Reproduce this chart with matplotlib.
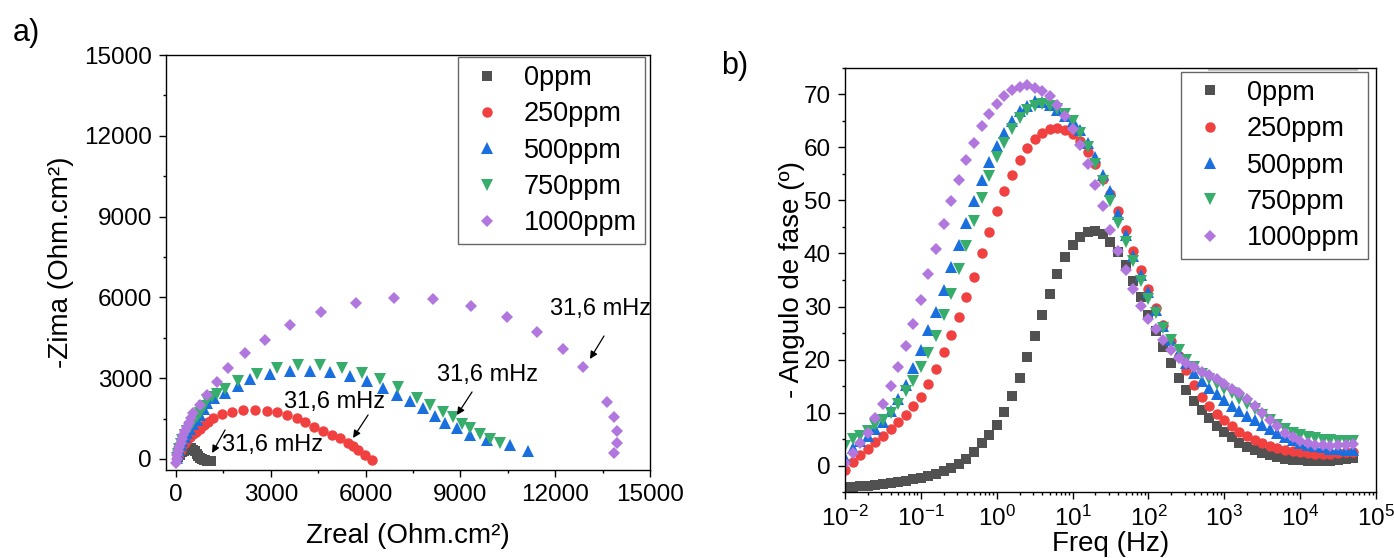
import matplotlib
matplotlib.use("Agg")
import matplotlib.pyplot as plt
from matplotlib.ticker import MultipleLocator, LogLocator, NullFormatter

plt.rcParams['font.family'] = ['Liberation Sans', 'DejaVu Sans']
plt.rcParams['mathtext.fontset'] = 'custom'
plt.rcParams['mathtext.rm'] = 'Liberation Sans'
plt.rcParams['mathtext.it'] = 'Liberation Sans:italic'
plt.rcParams['mathtext.bf'] = 'Liberation Sans:bold'

# ---------------- data ----------------
labels = ['0ppm', '250ppm', '500ppm', '750ppm', '1000ppm']
colors = ['#515151', '#F14040', '#1A6FDF', '#37AD6B', '#B177DE']
markers = ['s', 'o', '^', 'v', 'D']
msizes = [6.5, 7.5, 8.5, 8.5, 6.2]

# Nyquist (panel a)
zreal_0 = [60, 120, 180, 240, 300, 360, 420, 480, 540, 600, 650, 700, 750, 810, 870, 930, 990, 1050, 1100]
zima_0 = [60, 150, 240, 310, 360, 390, 400, 390, 350, 280, 200, 120, 50, 0, -30, -50, -60, -60, -60]

zreal_250 = [20, 50, 90, 140, 200, 270, 350, 440, 540, 640, 750, 870, 1000, 1180, 1440, 1760, 2130, 2500,
             2870, 3190, 3500, 3820, 4080, 4350, 4660, 4930, 5190, 5450, 5610, 5770, 5980, 6190]
zima_250 = [30, 120, 230, 350, 470, 590, 710, 820, 920, 1010, 1120, 1250, 1380, 1520, 1660, 1750, 1810, 1810,
            1780, 1730, 1630, 1510, 1390, 1200, 1050, 890, 770, 580, 480, 330, 150, -40]

zreal_500 = [20, 50, 90, 140, 200, 270, 350, 440, 540, 650, 760, 870, 971, 1200, 1551, 1973, 2342, 2975,
             3608, 4241, 4874, 5507, 6035, 6562, 6984, 7406, 7828, 8197, 8514, 8883, 9305, 9833, 10571, 11151]
zima_500 = [40, 170, 330, 500, 660, 820, 970, 1120, 1280, 1450, 1633, 1850, 2066, 2250, 2460, 2720, 2960, 3150,
            3250, 3280, 3230, 3080, 2890, 2640, 2390, 2140, 1880, 1580, 1330, 1140, 890, 700, 520, 310]

zreal_750 = [20, 50, 90, 140, 200, 270, 350, 440, 540, 650, 760, 870, 971, 1130, 1287, 1551, 1973, 2553,
             3186, 3872, 4558, 5244, 5877, 6457, 7037, 7617, 8039, 8461, 8778, 9041, 9305, 9622, 9939, 10252]
zima_750 = [50, 190, 360, 540, 710, 880, 1040, 1200, 1370, 1540, 1720, 1960, 2190, 2300, 2400, 2580, 2880, 3140,
            3380, 3500, 3500, 3380, 3190, 2970, 2690, 2260, 2010, 1760, 1570, 1280, 1140, 930, 740, 590]

zreal_1000 = [0, 20, 40, 70, 100, 140, 180, 230, 280, 340, 400, 470, 549, 760, 971, 1287, 1656, 2184, 2817,
              3608, 4579, 5697, 6900, 8145, 9326, 10466, 11415, 12259, 12892, 13639, 13860, 13955, 13955, 13860]
zima_1000 = [-150, 0, 150, 300, 450, 600, 750, 900, 1050, 1200, 1350, 1520, 1695, 2004, 2376, 2871, 3367, 3924,
             4419, 4976, 5446, 5781, 5966, 5941, 5681, 5285, 4728, 4072, 3404, 2117, 1560, 1040, 594, 223]

# Bode phase (panel b)
freq_hz = [0.01, 0.0126, 0.0158, 0.02, 0.0251, 0.0316, 0.0398, 0.0501, 0.0631, 0.0794,
           0.1, 0.126, 0.158, 0.2, 0.251, 0.316, 0.398, 0.501, 0.631, 0.794,
           1, 1.26, 1.58, 2, 2.51, 3.16, 3.98, 5.01, 6.31, 7.94,
           10, 12.6, 15.8, 20, 25.1, 31.6, 39.8, 50.1, 63.1, 79.4,
           100, 126, 158, 200, 251, 316, 398, 501, 631, 794,
           1000, 1260, 1580, 2000, 2510, 3160, 3980, 5010, 6310, 7940,
           10000, 12600, 15800, 20000, 25100, 31600, 39800, 50100]

phase_0 = [-4.1, -4.0, -3.9, -3.8, -3.6, -3.5, -3.3, -3.1, -2.9, -2.6,
           -2.4, -2.0, -1.6, -1.1, -0.5, 0.3, 1.3, 2.6, 4.2, 5.8,
           7.6, 10.1, 13.1, 16.6, 20.5, 24.5, 28.4, 32.4, 36.1, 39.3,
           41.6, 43.2, 44.1, 44.2, 43.6, 42.2, 40.3, 37.8, 34.8, 31.7,
           28.4, 25.3, 22.3, 19.3, 16.6, 14.3, 12.2, 10.4, 8.9, 7.5,
           6.3, 5.3, 4.3, 3.5, 2.9, 2.4, 2.0, 1.6, 1.3, 1.1,
           0.95, 0.85, 0.8, 0.8, 0.85, 1.0, 1.2, 1.5]
phase_250 = [-0.8, 0.6, 1.9, 3.2, 4.5, 5.6, 6.8, 8.3, 9.6, 11.2,
             13.0, 15.4, 18.3, 21.4, 24.6, 28.1, 31.7, 35.6, 40.0, 44.0,
             48.1, 51.7, 54.9, 57.7, 59.9, 61.6, 62.8, 63.4, 63.6, 63.3,
             62.6, 61.3, 59.1, 56.8, 54.1, 51.2, 48.0, 44.5, 40.5, 36.9,
             33.3, 29.7, 26.6, 23.4, 20.7, 18.0, 15.2, 13.0, 11.3, 9.8,
             8.5, 7.4, 6.4, 5.5, 4.8, 4.2, 3.7, 3.3, 2.9, 2.7,
             2.5, 2.35, 2.25, 2.2, 2.25, 2.35, 2.5, 2.6]
phase_500 = [1.5, 3.3, 4.6, 5.6, 6.8, 8.2, 10.3, 12.6, 15.2, 18.4,
             21.7, 25.6, 28.9, 33.1, 37.4, 41.6, 45.8, 49.9, 53.9, 57.2,
             60.3, 62.8, 65.0, 66.8, 67.9, 68.7, 68.5, 68.0, 67.0, 66.0,
             65.0, 63.3, 60.9, 58.3, 54.9, 51.7, 47.5, 43.4, 39.5, 35.9,
             32.8, 29.4, 26.4, 23.7, 21.3, 19.3, 17.5, 15.9, 14.6, 13.4,
             12.3, 11.3, 10.3, 9.4, 8.5, 7.6, 6.8, 6.1, 5.4, 4.8,
             4.3, 3.9, 3.6, 3.4, 3.2, 3.1, 3.0, 3.0]
phase_750 = [3.6, 5.0, 5.6, 6.6, 7.6, 8.6, 9.9, 11.6, 14.0, 16.0,
             18.5, 21.3, 24.4, 28.4, 32.4, 37.0, 41.5, 46.2, 50.5, 54.6,
             58.3, 60.9, 63.5, 65.6, 67.0, 67.9, 68.2, 67.9, 67.3, 66.3,
             65.0, 62.8, 60.1, 56.9, 53.6, 49.9, 45.8, 42.1, 38.5, 34.8,
             31.5, 28.7, 25.9, 23.7, 21.7, 20.0, 18.5, 17.3, 16.3, 15.3,
             14.4, 13.6, 12.6, 11.6, 10.6, 9.6, 8.6, 7.6, 6.9, 6.2,
             5.8, 5.4, 5.1, 4.9, 4.8, 4.7, 4.7, 4.7]
phase_1000 = [0.5, 2.4, 4.2, 6.2, 8.9, 11.6, 15.0, 18.5, 22.6, 26.7,
              31.3, 36.1, 40.8, 45.5, 49.9, 53.9, 57.6, 60.9, 64.0, 66.3,
              68.2, 69.8, 70.9, 71.5, 71.7, 71.3, 70.7, 69.7, 68.0, 66.0,
              63.5, 60.4, 56.8, 52.9, 48.9, 44.5, 40.5, 36.8, 33.3, 30.1,
              27.7, 25.7, 23.7, 21.7, 20.3, 19.3, 18.5, 17.7, 17.0, 16.3,
              15.4, 14.5, 13.6, 12.6, 11.3, 9.9, 8.6, 7.4, 6.2, 5.4,
              4.7, 4.2, 3.9, 3.8, 3.7, 3.8, 3.9, 4.1]

nyq_x = [zreal_0, zreal_250, zreal_500, zreal_750, zreal_1000]
nyq_y = [zima_0, zima_250, zima_500, zima_750, zima_1000]
phases = [phase_0, phase_250, phase_500, phase_750, phase_1000]

# ---------------- figure ----------------
W, H = 1394, 558
fig = plt.figure(figsize=(W / 100, H / 100), dpi=100)

def px_axes(l, t, r, b):
    return fig.add_axes([l / W, 1 - b / H, (r - l) / W, (b - t) / H])

TICK_FS = 17.5
LAB_FS = 20
LEG_FS = 19.5
NOTE_FS = 17

def style(ax):
    for s in ax.spines.values():
        s.set_linewidth(1.0)
    ax.tick_params(which='major', direction='out', length=5, width=1.0,
                   labelsize=TICK_FS, pad=5, top=False, right=False)
    ax.tick_params(which='minor', direction='out', length=2.5, width=1.0,
                   top=False, right=False)

leg_kw = dict(borderaxespad=0, fontsize=LEG_FS, frameon=True, fancybox=False,
              handlelength=1.6, handletextpad=0.55, labelspacing=0.38, borderpad=0.3)

# panel a
axa = px_axes(166, 55, 650, 470)
for x, y, c, m, s, lab in zip(nyq_x, nyq_y, colors, markers, msizes, labels):
    axa.plot(x, y, linestyle='none', marker=m, color=c, markersize=s,
             markeredgewidth=0, label=lab)
axa.set_xlim(-320, 15000)
axa.set_ylim(-410, 15000)
axa.xaxis.set_major_locator(MultipleLocator(3000))
axa.xaxis.set_minor_locator(MultipleLocator(1500))
axa.yaxis.set_major_locator(MultipleLocator(3000))
axa.yaxis.set_minor_locator(MultipleLocator(1500))
style(axa)
axa.set_xlabel('Zreal (Ohm.cm²)', fontsize=LAB_FS)
axa.set_ylabel('-Zima (Ohm.cm²)', fontsize=LAB_FS)
axa.xaxis.set_label_coords(0.5, -0.159)
axa.xaxis.label.set_va('center')
axa.yaxis.set_label_coords(-0.217, 0.5)
axa.yaxis.label.set_va('center')

arrow_kw = dict(arrowstyle='-|>', color='black', lw=0.9, mutation_scale=11,
                shrinkA=0, shrinkB=0)
notes = [((3040, 520), (1550, 1077), (1139, 223)),
         ((5000, 2117), (6076, 1634), (5601, 780)),
         ((9842, 3119), (9367, 2488), (8892, 1634)),
         ((13418, 5570), (13544, 4567), (13101, 3713))]
for (tx, ty), tail, head in notes:
    axa.text(tx, ty, '31,6 mHz', fontsize=NOTE_FS, ha='center', va='center', clip_on=False)
    axa.annotate('', xy=head, xytext=tail, arrowprops=arrow_kw)

lega = axa.legend(loc='upper right', bbox_to_anchor=(0.990, 0.995), **leg_kw)
lega.get_frame().set_edgecolor('#404040')
lega.get_frame().set_linewidth(1.0)

# panel b
axb = px_axes(845, 68, 1376, 492)
for p, c, m, s, lab in zip(phases, colors, markers, msizes, labels):
    axb.plot(freq_hz, p, linestyle='none', marker=m, color=c, markersize=s,
             markeredgewidth=0, label=lab)
axb.set_xscale('log')
axb.set_xlim(1e-2, 1e5)
axb.set_ylim(-5, 75)
axb.yaxis.set_major_locator(MultipleLocator(10))
axb.yaxis.set_minor_locator(MultipleLocator(5))
axb.xaxis.set_major_locator(LogLocator(base=10, numticks=20))
axb.xaxis.set_minor_locator(LogLocator(base=10, subs=range(2, 10), numticks=100))
axb.xaxis.set_minor_formatter(NullFormatter())
style(axb)
axb.set_yticks(range(0, 71, 10))
axb.set_xlabel('Freq (Hz)', fontsize=LAB_FS)
axb.set_ylabel('- Angulo de fase (º)', fontsize=LAB_FS)
# keep the label fully inside the canvas (bottom of its box at y = 557 px)
axb.xaxis.set_label_coords(0.5, -(557 - 492) / 424)
axb.xaxis.label.set_va('bottom')
axb.yaxis.set_label_coords(-0.10, 0.5)
axb.yaxis.label.set_va('center')
# faint strip under top spine
axb.plot([0.686, 0.964], [0.996, 0.996], transform=axb.transAxes, color='#c8c8c8', lw=1.5, clip_on=False)

legb = axb.legend(loc='upper right', bbox_to_anchor=(0.985, 0.991), **leg_kw)
legb.get_frame().set_edgecolor('#404040')
legb.get_frame().set_linewidth(1.0)

fig.text(26 / W, 1 - 33 / H, 'a)', fontsize=22, ha='center', va='center')
fig.text(735 / W, 1 - 66 / H, 'b)', fontsize=22, ha='center', va='center')

fig.savefig('out.png', dpi=100)
